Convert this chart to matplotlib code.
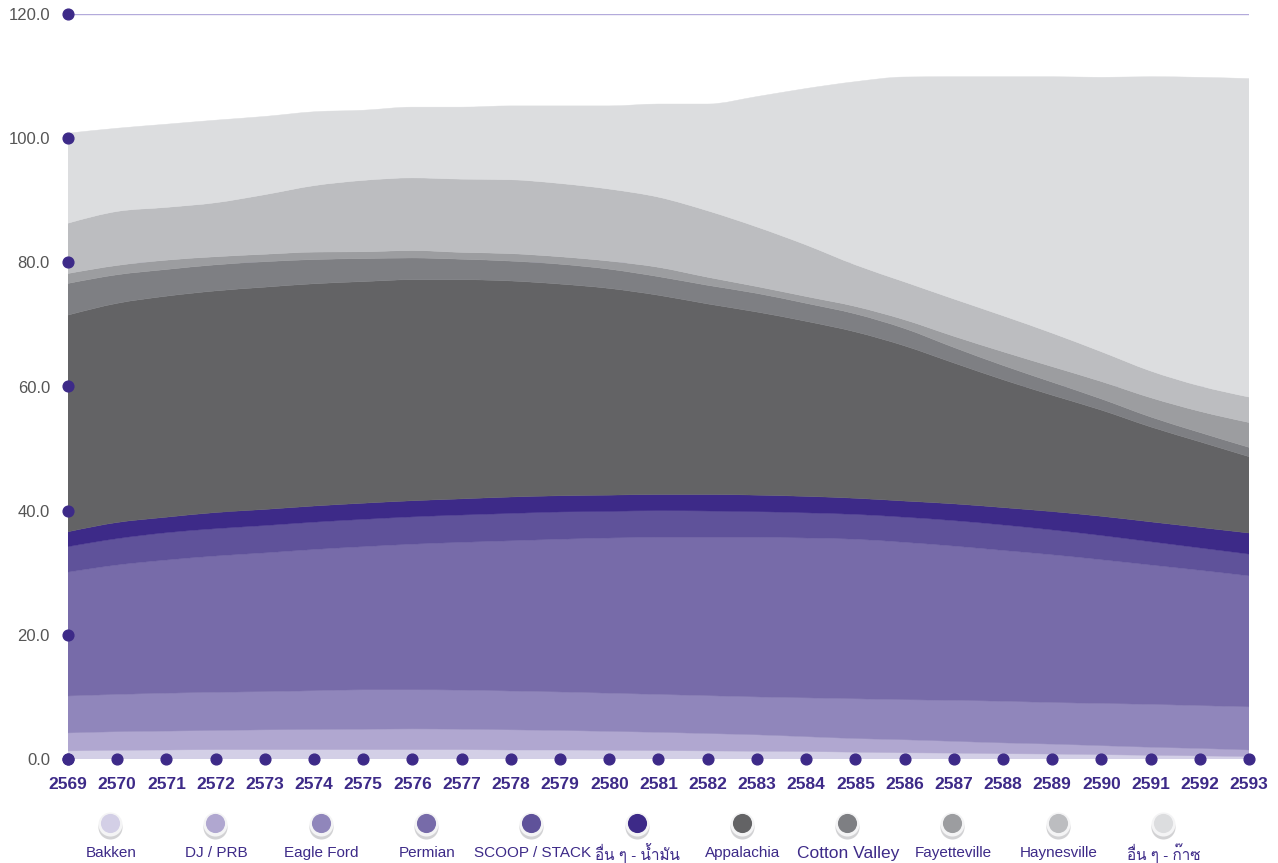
import numpy as np
import matplotlib
matplotlib.use("Agg")
import matplotlib.pyplot as plt
from matplotlib import font_manager
from matplotlib.ft2font import FT2Font
from matplotlib.path import Path
from matplotlib.patches import PathPatch


years = list(range(2569, 2594))

bakken = [1.3, 1.4, 1.45, 1.5, 1.5, 1.5, 1.5, 1.5, 1.5, 1.45, 1.45, 1.4, 1.35,
          1.3, 1.25, 1.2, 1.1, 1.0, 0.95, 0.85, 0.8, 0.7, 0.6, 0.5, 0.4]
dj_prb = [2.9, 3.0, 3.05, 3.1, 3.2, 3.25, 3.3, 3.35, 3.3, 3.25, 3.15, 3.05, 2.95,
          2.8, 2.65, 2.4, 2.2, 2.1, 1.9, 1.75, 1.6, 1.45, 1.3, 1.2, 1.05]
eagle_ford = [5.95, 6.0, 6.1, 6.15, 6.15, 6.25, 6.35, 6.3, 6.3, 6.25, 6.2, 6.15, 6.1,
              6.1, 6.1, 6.25, 6.4, 6.45, 6.6, 6.7, 6.7, 6.8, 6.9, 6.9, 6.95]
permian = [19.95, 20.85, 21.45, 21.95, 22.35, 22.75, 23.05, 23.45, 23.8, 24.2, 24.6, 25.0, 25.3,
           25.5, 25.7, 25.75, 25.7, 25.35, 24.85, 24.3, 23.8, 23.15, 22.45, 21.8, 21.1]
scoop_stack = [4.1, 4.25, 4.4, 4.4, 4.4, 4.4, 4.4, 4.4, 4.4, 4.4, 4.4, 4.3, 4.3,
               4.25, 4.15, 4.05, 4.0, 4.05, 4.1, 4.1, 4.0, 3.9, 3.75, 3.6, 3.5]
other_oil = [2.4, 2.6, 2.5, 2.6, 2.6, 2.6, 2.6, 2.6, 2.6, 2.65, 2.6, 2.6, 2.6,
             2.65, 2.65, 2.65, 2.6, 2.6, 2.7, 2.8, 2.95, 3.1, 3.2, 3.3, 3.4]
appalachia = [34.9, 35.3, 35.6, 35.7, 35.8, 35.8, 35.7, 35.6, 35.3, 34.8, 34.1, 33.3, 32.1,
              30.7, 29.5, 28.2, 26.8, 25.0, 22.7, 20.6, 18.75, 17.1, 15.3, 13.8, 12.3]
cotton_valley = [5.1, 4.6, 4.3, 4.2, 4.1, 3.9, 3.7, 3.5, 3.3, 3.2, 3.2, 3.1, 3.0,
                 3.0, 3.0, 2.9, 2.9, 2.8, 2.5, 2.3, 2.1, 1.8, 1.6, 1.5, 1.5]
fayetteville = [1.6, 1.5, 1.5, 1.3, 1.2, 1.2, 1.1, 1.2, 1.1, 1.2, 1.2, 1.3, 1.5,
                1.3, 1.1, 1.1, 1.2, 1.4, 1.8, 2.2, 2.5, 2.8, 3.1, 3.4, 4.0]
haynesville = [8.1, 8.7, 8.5, 8.7, 9.6, 10.7, 11.5, 11.7, 11.8, 11.9, 11.8, 11.6, 11.3,
               10.7, 9.6, 8.3, 6.7, 6.1, 6.0, 5.8, 5.4, 4.8, 4.3, 4.1, 4.1]
other_gas = [14.5, 13.4, 13.4, 13.3, 12.6, 11.9, 11.3, 11.4, 11.6, 11.9, 12.5, 13.4, 15.0,
             17.2, 21.0, 25.2, 29.5, 33.0, 35.8, 38.5, 41.3, 44.2, 47.4, 49.7, 51.3]

labels = ["Bakken", "DJ / PRB", "Eagle Ford", "Permian", "SCOOP / STACK",
          "อื่น ๆ - น้ำมัน", "Appalachia", "Cotton Valley", "Fayetteville",
          "Haynesville", "อื่น ๆ - ก๊าซ"]
colors = ["#d3cfe6", "#b0a7d0", "#9086bb", "#776ba9", "#5f529a", "#3d2a88",
          "#636365", "#7e7f83", "#9c9da0", "#bcbdc0", "#dcdddf"]
yticks = [0, 20, 40, 60, 80, 100, 120]

series = [bakken, dj_prb, eagle_ford, permian, scoop_stack, other_oil,
          appalachia, cotton_valley, fayetteville, haynesville, other_gas]


# find something that can draw Thai text
def find_thai_font():
    for f in font_manager.fontManager.ttflist:
        try:
            cmap = FT2Font(f.fname).get_charmap()
        except Exception:
            continue
        if 0x0E19 in cmap and 0x0E49 in cmap:
            return f.name
    return None


# monotone cubic tangents (per index step), like d3's curveMonotoneX
def tangents(y):
    y = np.asarray(y, dtype=float)
    s = np.diff(y)
    m = np.zeros_like(y)
    for i in range(1, len(y) - 1):
        a, b = s[i - 1], s[i]
        if a * b <= 0:
            m[i] = 0.0
        else:
            p = (a + b) / 2
            m[i] = (np.sign(a) + np.sign(b)) * min(abs(a), abs(b), 0.5 * abs(p))
    m[0] = (3 * s[0] - m[1]) / 2
    m[-1] = (3 * s[-1] - m[-2]) / 2
    return m


def curve(x, y):
    m = tangents(y)
    verts, codes = [], []
    for i in range(len(x) - 1):
        h = (x[i + 1] - x[i]) / 3
        verts += [(x[i] + h, y[i] + m[i] / 3),
                  (x[i + 1] - h, y[i + 1] - m[i + 1] / 3),
                  (x[i + 1], y[i + 1])]
        codes += [Path.CURVE4] * 3
    return verts, codes


thai = find_thai_font()
families = ["Liberation Sans", "DejaVu Sans"]
if thai:
    families.append(thai)
plt.rcParams["font.family"] = families

purple = "#3d2a88"

fig = plt.figure(figsize=(12.78, 8.63), dpi=100)
ax = fig.add_axes([68 / 1278, 1 - 759 / 863, (1249 - 68) / 1278, (759 - 14) / 863])

x = np.array(years, dtype=float)
lower = np.zeros(len(years))
for vals, col in zip(series, colors):
    upper = lower + np.array(vals)
    verts = [(x[0], lower[0]), (x[0], upper[0])]
    codes = [Path.MOVETO, Path.LINETO]
    v, c = curve(x, upper)
    verts += v
    codes += c
    verts.append((x[-1], lower[-1]))
    codes.append(Path.LINETO)
    v, c = curve(x[::-1], lower[::-1])
    verts += v
    codes += c
    verts.append((x[0], lower[0]))
    codes.append(Path.CLOSEPOLY)
    ax.add_patch(PathPatch(Path(verts, codes), facecolor=col, edgecolor=col, linewidth=0.3, zorder=2))
    lower = upper

ax.set_xlim(2569, 2593)
ax.set_ylim(0, 120)
for s in ax.spines.values():
    s.set_visible(False)

for v in yticks:
    ax.axhline(v, color="#b3aadb", linewidth=1, zorder=1)

ax.set_yticks(yticks)
ax.set_yticklabels([f"{v:.1f}" for v in yticks], fontsize=12, color="#555555")
ax.set_xticks(years)
ax.set_xticklabels([str(y) for y in years], fontsize=12.5, fontweight="bold", color=purple)
ax.tick_params(axis="y", length=0, pad=13)
ax.tick_params(axis="x", length=0, pad=13)

ax.scatter([2569] * len(yticks), yticks, s=60, color=purple, zorder=5, clip_on=False)
ax.scatter(years, [0] * len(years), s=60, color=purple, zorder=5, clip_on=False)

# legend drawn in pixel space along the bottom
lax = fig.add_axes([0, 0, 1, 1], zorder=-1)
lax.set_xlim(0, 1278)
lax.set_ylim(863, 0)
lax.axis("off")
x0, step = 110, 105.3
for i, (lab, col) in enumerate(zip(labels, colors)):
    cx = x0 + i * step
    lax.scatter([cx], [827], s=300, color="#d2d2d4", linewidths=0)
    lax.scatter([cx], [824], s=300, color="#f4f4f5", linewidths=0)
    lax.scatter([cx], [823], s=190, color=col, linewidths=0)
    fs = 12.5 if lab == "Cotton Valley" else 11
    lax.text(cx + 1, 853, lab, ha="center", va="center", fontsize=fs, color=purple)

fig.savefig("out.png", dpi=100)
